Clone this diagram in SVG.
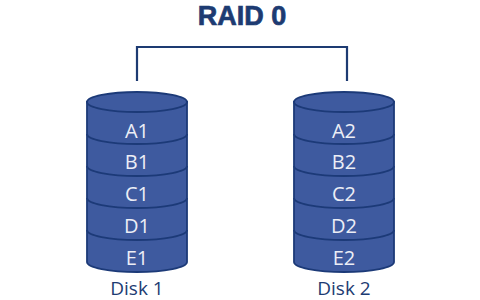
<svg xmlns="http://www.w3.org/2000/svg" width="480" height="300" viewBox="0 0 480 300">
<style>
.title{font-family:"Liberation Sans",Arial,sans-serif;font-weight:bold;font-size:27px;fill:#1d3b72;stroke:#1d3b72;stroke-width:0.7;text-anchor:middle}
.body{fill:#3e5a9f;stroke:#1c3a78;stroke-width:1.8}
.sep{fill:none;stroke:#1c3a78;stroke-width:1.8}
.lbl{font-family:"Open Sans",sans-serif;font-size:20px;fill:#eceef6;text-anchor:middle}
.cap{font-family:"Open Sans",sans-serif;font-size:19px;fill:#1d3b72;text-anchor:middle}
.conn{fill:none;stroke:#1d3b72;stroke-width:2.2}
</style>
<rect width="480" height="300" fill="#ffffff"/>
<g id="title"><text class="title" x="242" y="25">RAID 0</text></g>
<g id="connectors">
<path class="conn" d="M137,81 V47 H347 V81"/>
</g>
<g id="disk1">
<path class="body" d="M87,102 V262 A50,10 0 0 0 187,262 V102 Z"/>
<ellipse class="body" cx="137" cy="102" rx="50" ry="10"/>
<path class="sep" d="M87,134 A50,10 0 0 0 187,134 M87,166 A50,10 0 0 0 187,166 M87,198 A50,10 0 0 0 187,198 M87,230 A50,10 0 0 0 187,230"/>
<text class="lbl" x="137" y="137.5">A1</text>
<text class="lbl" x="137" y="169">B1</text>
<text class="lbl" x="137" y="200.5">C1</text>
<text class="lbl" x="137" y="232.5">D1</text>
<text class="lbl" x="137" y="264.5">E1</text>
<text class="cap" x="137" y="295">Disk 1</text>
</g>
<g id="disk2">
<path class="body" d="M294,102 V262 A50,10 0 0 0 394,262 V102 Z"/>
<ellipse class="body" cx="344" cy="102" rx="50" ry="10"/>
<path class="sep" d="M294,134 A50,10 0 0 0 394,134 M294,166 A50,10 0 0 0 394,166 M294,198 A50,10 0 0 0 394,198 M294,230 A50,10 0 0 0 394,230"/>
<text class="lbl" x="344" y="137.5">A2</text>
<text class="lbl" x="344" y="169">B2</text>
<text class="lbl" x="344" y="200.5">C2</text>
<text class="lbl" x="344" y="232.5">D2</text>
<text class="lbl" x="344" y="264.5">E2</text>
<text class="cap" x="344" y="295">Disk 2</text>
</g>
</svg>
